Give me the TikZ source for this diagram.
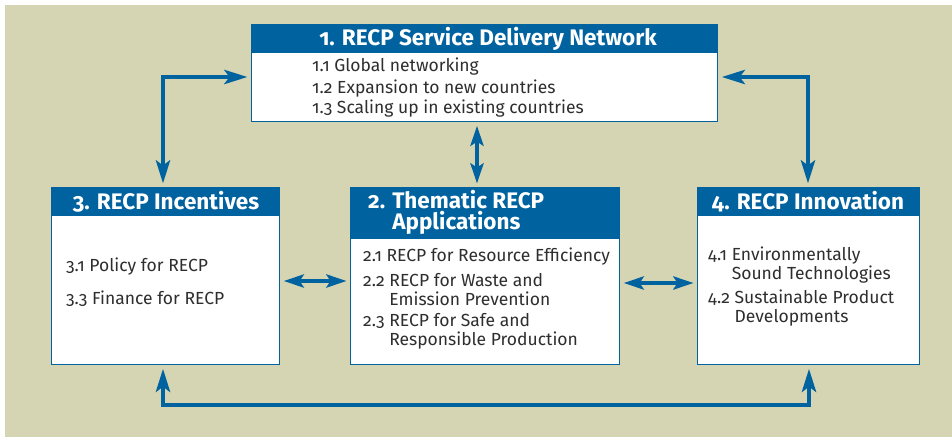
\documentclass[tikz,border=0pt]{standalone}
\usepackage{fontspec}
\setmainfont{Fira Sans}[Numbers=OldStyle]
\usetikzlibrary{arrows.meta}
\definecolor{khaki}{HTML}{D5D5B4}
\definecolor{recpblue}{HTML}{00629F}
\definecolor{txt}{HTML}{2E2E2E}
\begin{document}
\begin{tikzpicture}[x=1pt,y=-1pt,
  box/.style={draw=recpblue, line width=1.2pt, fill=white, anchor=north west, inner sep=0},
  head/.style={fill=recpblue, anchor=north west, inner sep=0},
  ttl/.style={text=white, font=\fontsize{22.5}{21}\selectfont\bfseries, inner sep=0, align=left},
  item/.style={text=txt, font=\fontsize{17.5}{18.5}\selectfont, align=left, anchor=west, inner sep=0},
  link/.style={draw=recpblue, line width=4.5pt,
    {Stealth[length=23pt,width=14pt,inset=5pt]}-{Stealth[length=23pt,width=14pt,inset=5pt]},
    shorten <=3.5pt, shorten >=3.5pt},
  smalllink/.style={link, line width=4pt,
    {Stealth[length=20pt,width=13pt,inset=4pt]}-{Stealth[length=20pt,width=13pt,inset=4pt]}}
]
\useasboundingbox (0,0) rectangle (952,439);
\fill[khaki] (5,5) rectangle (952,437);

% boxes
\node[box, minimum width=466, minimum height=97] (b1) at (251,24) {};
\node[head, minimum width=466, minimum height=29] (h1) at (b1.north west) {};
\node[box, minimum width=228, minimum height=177] (b3) at (51,187) {};
\node[head, minimum width=228, minimum height=29] (h3) at (b3.north west) {};
\node[box, minimum width=269, minimum height=177] (b2) at (350,187) {};
\node[head, minimum width=269, minimum height=52] (h2) at (b2.north west) {};
\node[box, minimum width=222, minimum height=177] (b4) at (697,187) {};
\node[head, minimum width=222, minimum height=29] (h4) at (b4.north west) {};

% titles
\node[ttl] (t1) at (488,39) {1. RECP Service Delivery Network};
\node[ttl] (t3) at (166,202) {3. RECP Incentives};
\node[ttl, anchor=west] (t2) at (368,212.5) {2. Thematic RECP\\\phantom{2. }Applications};
\node[ttl] (t4) at (808,202) {4. RECP Innovation};

% items box 1
\node[item] (i11) at (312,66.5) {1.1 Global networking};
\node[item] (i12) at (312,88.5) {1.2 Expansion to new countries};
\node[item] (i13) at (312,108.5) {1.3 Scaling up in existing countries};
% items box 3
\node[item] (i31) at (66,266.5) {3.1 Policy for RECP};
\node[item] (i33) at (66,298.5) {3.3 Finance for RECP};
% items box 2
\node[item] (i21) at (363,256.5) {2.1 RECP for Resource Efficiency};
\node[item] (i22) at (363,289.5) {2.2 RECP for Waste and\\\phantom{2.2 }Emission Prevention};
\node[item] (i23) at (363,331.5) {2.3 RECP for Safe and\\\phantom{2.3 }Responsible Production};
% items box 4
\node[item] (i41) at (708,265) {4.1 Environmentally\\\phantom{4.1 }Sound Technologies};
\node[item] (i42) at (708,308) {4.2 Sustainable Product\\\phantom{4.2 }Developments};

% connectors
\coordinate (cl) at (163,77);
\coordinate (cr) at (808,77);
\coordinate (cm) at (477,150);
\coordinate (ch1) at (310,281);
\coordinate (ch2) at (660,283);
\coordinate (cbl) at (163,405);
\coordinate (cbr) at (809,405);

\draw[link] (cl |- b3.north) -- (cl) -- (cl -| b1.west);
\draw[link] (cr |- b4.north) -- (cr) -- (cr -| b1.east);
\draw[smalllink] (cm |- b1.south) -- (cm |- b2.north);
\draw[smalllink] (ch1 -| b3.east) -- (ch1 -| b2.west);
\draw[smalllink] (ch2 -| b2.east) -- (ch2 -| b4.west);
\draw[link] (cbl |- b3.south) -- (cbl) -- (cbr) -- (cbr |- b4.south);
\end{tikzpicture}
\end{document}
